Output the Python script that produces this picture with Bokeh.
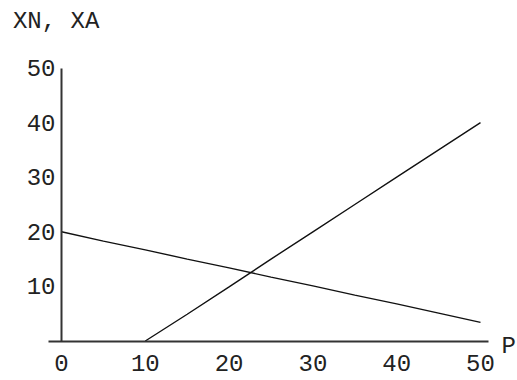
from bokeh.plotting import figure
from bokeh.models import Range1d, LinearAxis, FixedTicker, Label
from bokeh.embed import file_html
from bokeh.resources import INLINE

# Data
p_xn = [0, 5, 10, 15, 20, 25, 30, 35, 40, 45, 50]
xn = [20.0, 18.3, 16.7, 15.0, 13.4, 11.7, 10.1, 8.4, 6.8, 5.1, 3.4]
p_xa = [10, 15, 20, 25, 30, 35, 40, 45, 50]
xa = [0.0, 4.9, 9.9, 15.0, 20.0, 25.0, 30.0, 35.0, 40.0]
x_ticks = [0, 10, 20, 30, 40, 50]
y_ticks = [10, 20, 30, 40, 50]

FONT = "Liberation Mono"
FS = "24px"

p = figure(output_backend="svg", toolbar_location=None,
           x_range=Range1d(-7.279, 54.415), y_range=Range1d(-7.234, 62.363),
           frame_width=517, frame_height=380,
           min_border=0,
           x_axis_type=None, y_axis_type=None)
p.outline_line_color = None
p.xgrid.visible = False
p.ygrid.visible = False
p.background_fill_color = "white"
p.border_fill_color = "white"

xaxis = LinearAxis(ticker=FixedTicker(ticks=x_ticks), fixed_location=0, bounds=(-1.55, 50.95))
yaxis = LinearAxis(ticker=FixedTicker(ticks=y_ticks), fixed_location=0, bounds=(0, 50))
for ax in (xaxis, yaxis):
    ax.axis_line_color = "#333333"
    ax.axis_line_width = 2
    ax.major_tick_line_color = None
    ax.minor_tick_line_color = None
    ax.major_tick_out = 0
    ax.major_tick_in = 0
    ax.minor_tick_out = 0
    ax.minor_tick_in = 0
    ax.major_label_text_font = FONT
    ax.major_label_text_font_size = FS
    ax.major_label_text_color = "#222222"
xaxis.major_label_standoff = 14
yaxis.major_label_standoff = 6
p.add_layout(xaxis, "below")
p.add_layout(yaxis, "left")

p.line(p_xn, xn, line_color="#111111", line_width=1.4)
p.line(p_xa, xa, line_color="#111111", line_width=1.4)

p.add_layout(Label(x=-5.8, y=58.5, text="XN, XA", text_font=FONT, text_font_size=FS,
                   text_color="#222222", text_baseline="alphabetic"))
p.add_layout(Label(x=52.5, y=-1.0, text="P", text_font=FONT, text_font_size=FS,
                   text_color="#222222", text_baseline="alphabetic"))

open("out.html", "w").write(file_html(p, INLINE))
